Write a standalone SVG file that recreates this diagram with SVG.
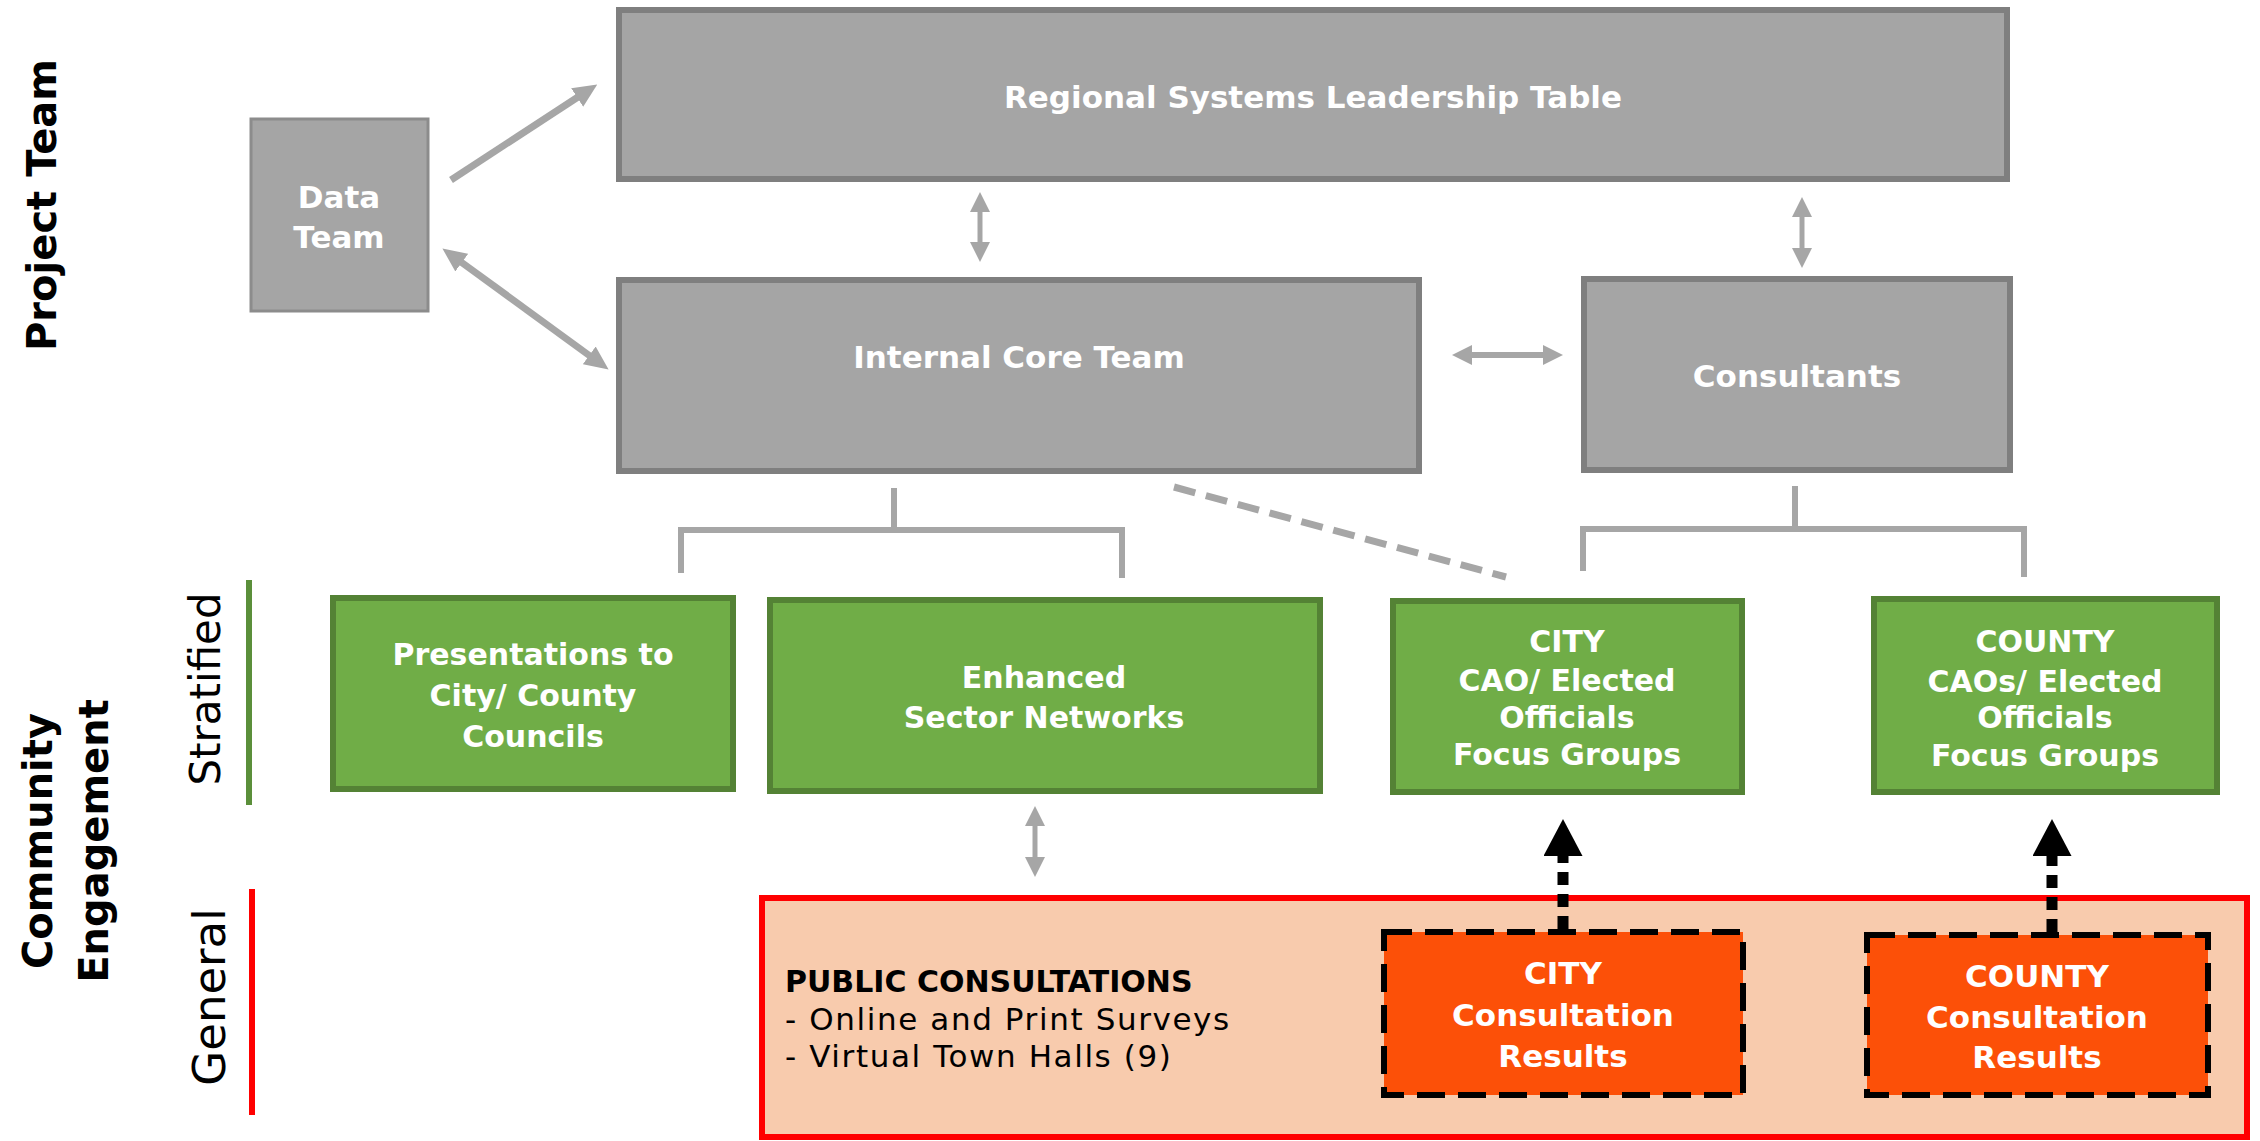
<svg xmlns="http://www.w3.org/2000/svg" width="2260" height="1141" viewBox="0 0 2260 1141">
  <style>
    .grey { fill: #a5a5a5; stroke: #7f7f7f; stroke-width: 6; }
    .data { fill: #a5a5a5; stroke: #8c8c8c; stroke-width: 3; }
    .green { fill: #70ad47; stroke: #548235; stroke-width: 6; }
    .orange { fill: #fc5008; stroke: #000000; stroke-width: 6; stroke-dasharray: 28 13; }
    .public { fill: #f8cbad; stroke: #ff0000; stroke-width: 6; }
    .lbl { font-family: "DejaVu Sans", "Liberation Sans", sans-serif; font-weight: bold; fill: #ffffff; text-anchor: middle; }
    .g31 { font-size: 31px; }
    .g30 { font-size: 30px; }
    .title { font-family: "DejaVu Sans", "Liberation Sans", sans-serif; font-weight: bold; font-size: 40px; fill: #000000; text-anchor: middle; }
    .side { font-family: "DejaVu Sans", "Liberation Sans", sans-serif; font-weight: normal; font-size: 42px; fill: #000000; text-anchor: middle; }
    .side45 { font-size: 45px; }
    .pub { font-family: "DejaVu Sans", "Liberation Sans", sans-serif; fill: #000000; }
    .garrow { fill: none; stroke: #a6a6a6; }
    .bracket { fill: none; stroke: #a6a6a6; stroke-width: 6; }
    .barrow { fill: none; stroke: #000000; stroke-width: 11; stroke-dasharray: 13 9; }
  </style>
  <defs>
    <marker id="ga" markerUnits="userSpaceOnUse" markerWidth="24" markerHeight="22" refX="1" refY="11" orient="auto-start-reverse">
      <path d="M0,0 L24,11 L0,22 z" fill="#a6a6a6"/>
    </marker>
    <marker id="gs" markerUnits="userSpaceOnUse" markerWidth="20" markerHeight="20" refX="1" refY="10" orient="auto-start-reverse">
      <path d="M0,0 L20,10 L0,20 z" fill="#a6a6a6"/>
    </marker>
    <marker id="bk" markerUnits="userSpaceOnUse" markerWidth="37" markerHeight="39" refX="1" refY="19.5" orient="auto">
      <path d="M0,0 L37,19.5 L0,39 z" fill="#000000"/>
    </marker>
  </defs>

  <!-- side labels -->
  <g id="side-labels">
    <text class="title" transform="translate(56,205) rotate(-90)">Project Team</text>
    <text class="title" transform="translate(52,841) rotate(-90)">Community</text>
    <text class="title" transform="translate(108,841) rotate(-90)">Engagement</text>
    <text class="side" transform="translate(220,689) rotate(-90)">Stratified</text>
    <text class="side side45" transform="translate(225,997) rotate(-90)">General</text>
    <line x1="249" y1="580" x2="249" y2="805" stroke="#5b8f3a" stroke-width="6"/>
    <line x1="252" y1="889" x2="252" y2="1115" stroke="#ff0000" stroke-width="6"/>
  </g>

  <!-- public consultations background -->
  <g id="public-consultations">
    <rect class="public" x="762" y="898" width="1485" height="239"/>
    <text class="pub" x="785" y="992" font-size="30" font-weight="bold">PUBLIC CONSULTATIONS</text>
    <text class="pub" x="785" y="1030" font-size="31" letter-spacing="1.6">- Online and Print Surveys</text>
    <text class="pub" x="785" y="1067" font-size="31" letter-spacing="1.6">- Virtual Town Halls (9)</text>
  </g>

  <!-- connectors -->
  <g id="connectors">
    <line class="garrow" stroke-width="7" x1="451" y1="180" x2="578" y2="97" marker-end="url(#ga)"/>
    <line class="garrow" stroke-width="7" x1="461" y1="262" x2="590" y2="356" marker-start="url(#ga)" marker-end="url(#ga)"/>
    <line class="garrow" stroke-width="5" x1="980" y1="211" x2="980" y2="243" marker-start="url(#gs)" marker-end="url(#gs)"/>
    <line class="garrow" stroke-width="5" x1="1802" y1="216" x2="1802" y2="249" marker-start="url(#gs)" marker-end="url(#gs)"/>
    <line class="garrow" stroke-width="6" x1="1471" y1="355" x2="1544" y2="355" marker-start="url(#gs)" marker-end="url(#gs)"/>
    <line class="garrow" stroke-width="5" x1="1035" y1="825" x2="1035" y2="858" marker-start="url(#gs)" marker-end="url(#gs)"/>
    <path class="bracket" d="M681,573 V530 H1122 V578 M894,488 V530"/>
    <path class="bracket" d="M1583,571 V529 H2024 V577 M1795,486 V529"/>
    <line class="garrow" stroke-width="7" stroke-dasharray="22 11" x1="1174" y1="487" x2="1506" y2="577"/>
    <line class="barrow" x1="1563" y1="929" x2="1563" y2="855" marker-end="url(#bk)"/>
    <line class="barrow" x1="2052" y1="932" x2="2052" y2="855" marker-end="url(#bk)"/>
  </g>

  <!-- project team nodes -->
  <g id="node-data-team">
    <rect class="data" x="251" y="119" width="177" height="192"/>
    <text class="lbl g31" x="339" y="208">Data</text>
    <text class="lbl g31" x="339" y="248">Team</text>
  </g>
  <g id="node-rslt">
    <rect class="grey" x="619" y="10" width="1388" height="169"/>
    <text class="lbl g31" x="1313" y="108">Regional Systems Leadership Table</text>
  </g>
  <g id="node-internal-core-team">
    <rect class="grey" x="619" y="280" width="800" height="191"/>
    <text class="lbl g31" x="1019" y="368">Internal Core Team</text>
  </g>
  <g id="node-consultants">
    <rect class="grey" x="1584" y="279" width="426" height="191"/>
    <text class="lbl g31" x="1797" y="387">Consultants</text>
  </g>

  <!-- stratified nodes -->
  <g id="node-presentations">
    <rect class="green" x="333" y="598" width="400" height="191"/>
    <text class="lbl g30" x="533" y="665">Presentations to</text>
    <text class="lbl g30" x="533" y="706">City/ County</text>
    <text class="lbl g30" x="533" y="747">Councils</text>
  </g>
  <g id="node-enhanced">
    <rect class="green" x="770" y="600" width="550" height="191"/>
    <text class="lbl g30" x="1044" y="688">Enhanced</text>
    <text class="lbl g30" x="1044" y="728">Sector Networks</text>
  </g>
  <g id="node-city-focus">
    <rect class="green" x="1393" y="601" width="349" height="191"/>
    <text class="lbl g30" x="1567" y="652">CITY</text>
    <text class="lbl g30" x="1567" y="691">CAO/ Elected</text>
    <text class="lbl g30" x="1567" y="728">Officials</text>
    <text class="lbl g30" x="1567" y="765">Focus Groups</text>
  </g>
  <g id="node-county-focus">
    <rect class="green" x="1874" y="599" width="343" height="193"/>
    <text class="lbl g30" x="2045" y="652">COUNTY</text>
    <text class="lbl g30" x="2045" y="692">CAOs/ Elected</text>
    <text class="lbl g30" x="2045" y="728">Officials</text>
    <text class="lbl g30" x="2045" y="766">Focus Groups</text>
  </g>

  <!-- general nodes -->
  <g id="node-city-results">
    <rect class="orange" x="1384" y="932" width="359" height="163"/>
    <text class="lbl g31" x="1563" y="984">CITY</text>
    <text class="lbl g31" x="1563" y="1026">Consultation</text>
    <text class="lbl g31" x="1563" y="1067">Results</text>
  </g>
  <g id="node-county-results">
    <rect class="orange" x="1867" y="935" width="341" height="160"/>
    <text class="lbl g31" x="2037" y="987">COUNTY</text>
    <text class="lbl g31" x="2037" y="1028">Consultation</text>
    <text class="lbl g31" x="2037" y="1068">Results</text>
  </g>
</svg>
